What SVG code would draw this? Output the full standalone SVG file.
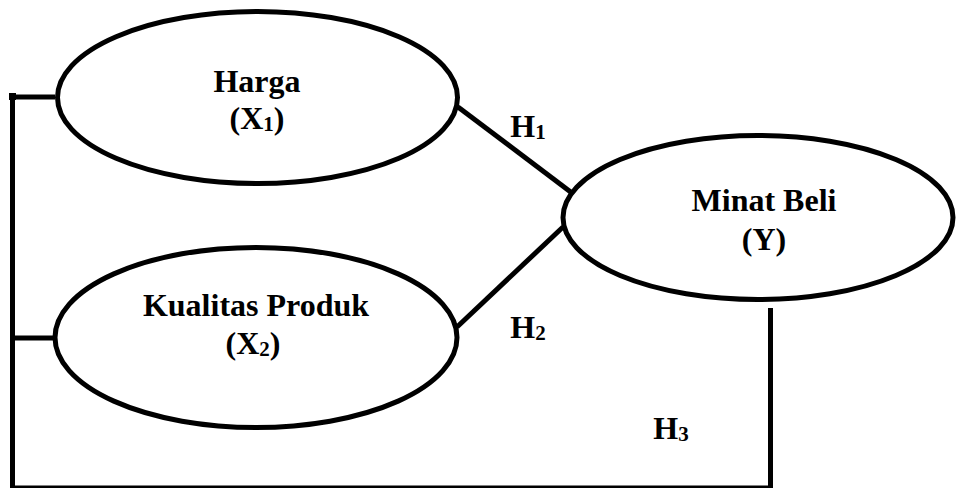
<svg xmlns="http://www.w3.org/2000/svg" width="957" height="488" viewBox="0 0 957 488">
<style>
.node{fill:#fff;stroke:#000;stroke-width:5}
.lbl{font-family:"Liberation Serif","Times New Roman",serif;font-weight:bold;font-size:32px;fill:#000;text-anchor:middle}
.sub{font-size:21px}
.con{stroke:#000;stroke-width:5;fill:none}
</style>
<rect width="957" height="488" fill="#fff"/>
<g id="connectors">
<line class="con" x1="458" y1="107" x2="572" y2="193"/>
<line class="con" x1="457" y1="327" x2="563" y2="227"/>
<polyline class="con" points="55,97 12.5,97 12.5,488"/>
<line class="con" x1="12.5" y1="338" x2="55" y2="338"/>
<line class="con" x1="12.5" y1="488" x2="773" y2="488"/>
<line class="con" x1="770.5" y1="308" x2="770.5" y2="488"/>
<rect x="9" y="93" width="7" height="7" fill="#000"/>
<text class="lbl" x="528" y="137">H<tspan class="sub" dy="2">1</tspan></text>
<text class="lbl" x="528" y="338">H<tspan class="sub" dy="2">2</tspan></text>
<text class="lbl" x="671" y="439">H<tspan class="sub" dy="2">3</tspan></text>
</g>
<g id="harga">
<ellipse class="node" cx="257.5" cy="97.5" rx="200" ry="86"/>
<text class="lbl" x="257" y="92">Harga</text>
<text class="lbl" x="257" y="129">(X<tspan class="sub" dy="2">1</tspan><tspan dy="-2">)</tspan></text>
</g>
<g id="kualitas">
<ellipse class="node" cx="256" cy="337.5" rx="201" ry="90"/>
<text class="lbl" x="256" y="316">Kualitas Produk</text>
<text class="lbl" x="253" y="354">(X<tspan class="sub" dy="2">2</tspan><tspan dy="-2">)</tspan></text>
</g>
<g id="minat">
<ellipse class="node" cx="758" cy="217.5" rx="195" ry="82"/>
<text class="lbl" x="764" y="211">Minat Beli</text>
<text class="lbl" x="764" y="250">(Y)</text>
</g>
</svg>
